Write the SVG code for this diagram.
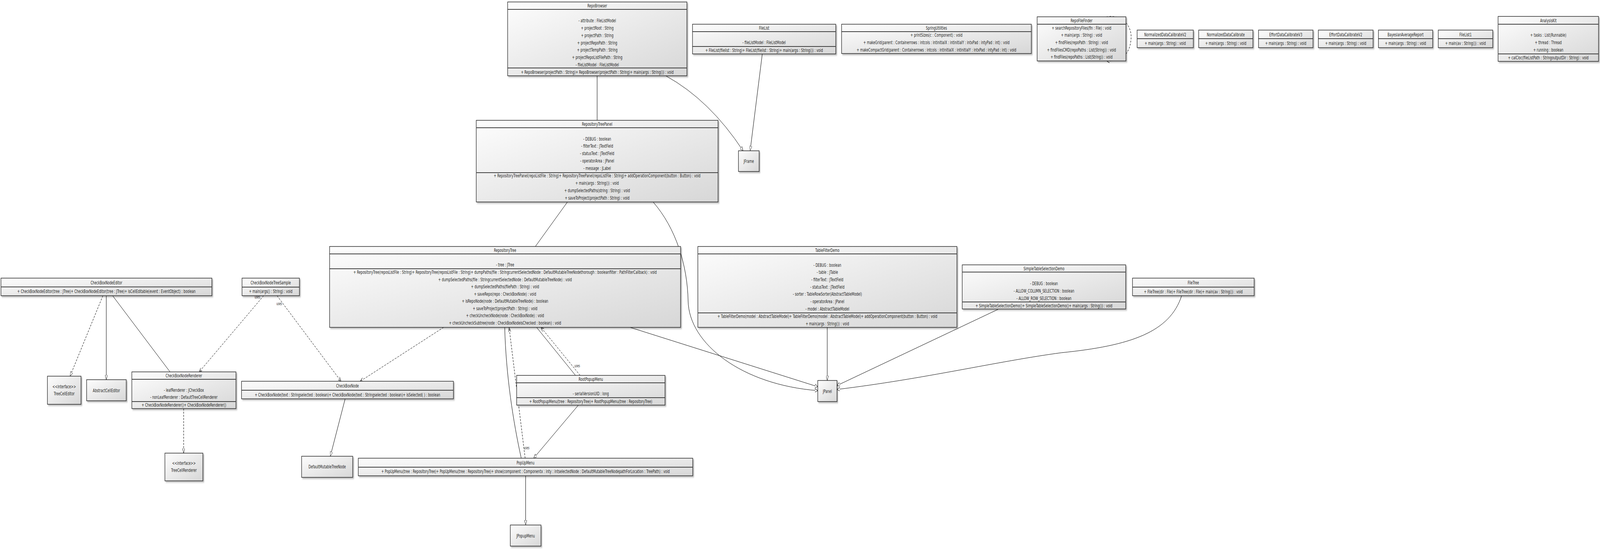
<svg xmlns="http://www.w3.org/2000/svg" width="6578" height="1408" viewBox="0 0 6578 1408">
<defs>
<linearGradient id="g" x1="0" y1="0" x2="1" y2="1"><stop offset="0" stop-color="#fdfdfd"/><stop offset="1" stop-color="#d7d7d7"/></linearGradient>
<filter id="sh" x="-5%" y="-10%" width="110%" height="130%"><feDropShadow dx="4" dy="3" stdDeviation="2" flood-color="#000" flood-opacity="0.3"/></filter>
<marker id="tri" viewBox="0 0 12 10" refX="12" refY="5" markerWidth="12" markerHeight="10" markerUnits="userSpaceOnUse" orient="auto"><path d="M0,0 L12,5 L0,10 Z" fill="#fff" stroke="#000" stroke-width="1" stroke-dasharray="none"/></marker>
<marker id="arr" viewBox="0 0 12 10" refX="12" refY="5" markerWidth="12" markerHeight="10" markerUnits="userSpaceOnUse" orient="auto"><path d="M0,0 L12,5 L0,10" fill="none" stroke="#000" stroke-width="1.2" stroke-dasharray="none"/></marker>
</defs>
<style>
.box{fill:url(#g);stroke:#2b2b2b;stroke-width:1.3;filter:url(#sh);vector-effect:non-scaling-stroke}
.sep{stroke:#404040;stroke-width:2;vector-effect:non-scaling-stroke}
text{font-family:"DejaVu Sans",sans-serif;font-size:12.4px;fill:#1e1e1e;text-anchor:middle;dominant-baseline:central}
.lbl{font-size:10px}
#connectors path{fill:none;stroke:#000;stroke-width:1;vector-effect:non-scaling-stroke}
#connectors .d{stroke-dasharray:5,3}
</style>
<rect width="6578" height="1408" fill="#fff"/>
<g id="diagram" transform="scale(0.62268,1)">

<g id="connectors">
<path d="M2455,194 L2455,308"/>
<path d="M2737,194 Q2918,256 3055,386" marker-end="url(#tri)"/>
<path d="M3134,138 L3084,386" marker-end="url(#tri)"/>
<path d="M2333,517 L2201,631"/>
<path d="M2685,517 C2780,585 2826,680 2829,770 C2832,880 3050,985 3362,1000" marker-end="url(#tri)"/>
<path d="M2590,838 L3362,990" marker-end="url(#tri)"/>
<path d="M3401,838 L3401,974" marker-end="url(#tri)"/>
<path d="M4103,792 L3441,987" marker-end="url(#tri)"/>
<path d="M4858,757 C4810,850 4650,885 4363,903 C4100,925 3800,970 3441,997" marker-end="url(#tri)"/>
<path class="d" d="M423,757 L288,963" marker-end="url(#tri)"/>
<path d="M437,757 L437,972" marker-end="url(#tri)"/>
<path d="M463,757 L699,952"/>
<path class="d" d="M1084,757 L819,952" marker-end="url(#arr)"/>
<path class="d" d="M1139,757 L1402,976" marker-end="url(#arr)"/>
<path class="d" d="M1824,838 L1481,976" marker-end="url(#arr)"/>
<path d="M1419,1021 L1358,1168" marker-end="url(#tri)"/>
<path d="M2075,838 C2080,960 2110,1080 2143,1173"/>
<path class="d" d="M2159,1173 L2093,838" marker-end="url(#arr)"/>
<path d="M2366,961 L2206,838"/>
<path class="d" d="M2385,961 L2224,838" marker-end="url(#arr)"/>
<path d="M2378,1037 L2194,1173" marker-end="url(#tri)"/>
<path d="M2161,1218 L2161,1344" marker-end="url(#tri)"/>
<path class="d" d="M755,1046 L755,1160" marker-end="url(#tri)"/>
<path class="d" d="M4548,43 C4620,35 4655,70 4650,100 C4645,140 4610,158 4550,156" marker-end="url(#arr)"/>
<text class="lbl" x="1058" y="760">uses</text>
<text class="lbl" x="1148" y="777">uses</text>
<text class="lbl" x="1798" y="832">uses</text>
<text class="lbl" x="2165" y="1146">uses</text>
<text class="lbl" x="2373" y="936">uses</text>
<text class="lbl" x="4570" y="49">uses</text>
</g>

<g id="RepoBrowser">
<rect class="box" x="2087" y="5" width="737" height="189"/>
<line class="sep" x1="2087" y1="24" x2="2824" y2="24"/><line class="sep" x1="2087" y1="174" x2="2824" y2="174"/>
<text x="2455.5" y="14.5">RepoBrowser</text>
<text x="2455.5" y="52">- attribute : FileListModel</text>
<text x="2455.5" y="71">+ projectRoot : String</text>
<text x="2455.5" y="90">+ projectPath : String</text>
<text x="2455.5" y="109">+ projectRepoPath : String</text>
<text x="2455.5" y="127">+ projectTempPath : String</text>
<text x="2455.5" y="146">+ projectRepoListFilePath : String</text>
<text x="2455.5" y="165">- fileListModel : FileListModel</text>
<text x="2455.5" y="184">+ RepoBrowser(projectPath : String)+ RepoBrowser(projectPath : String)+ main(args : String()) : void</text>
</g>

<g id="FileList">
<rect class="box" x="2847" y="62" width="589" height="76"/>
<line class="sep" x1="2847" y1="81" x2="3436" y2="81"/><line class="sep" x1="2847" y1="119" x2="3436" y2="119"/>
<text x="3141.5" y="71.5">FileList</text>
<text x="3141.5" y="108">- fileListModel : FileListModel</text>
<text x="3141.5" y="128">+ FileList(filelist : String)+ FileList(filelist : String)+ main(args : String()) : void</text>
</g>

<g id="SpringUtilities">
<rect class="box" x="3460" y="62" width="780" height="75"/>
<line class="sep" x1="3460" y1="81" x2="4240" y2="81"/>
<text x="3850" y="71.5">SpringUtilities</text>
<text x="3850" y="89">+ printSizes(c : Component) : void</text>
<text x="3850" y="108">+ makeGrid(parent : Containerrows : intcols : intinitialX : intinitialY : intxPad : intyPad : int) : void</text>
<text x="3850" y="127">+ makeCompactGrid(parent : Containerrows : intcols : intinitialX : intinitialY : intxPad : intyPad : int) : void</text>
</g>

<g id="RepoFileFinder">
<rect class="box" x="4264" y="43" width="365" height="113"/>
<line class="sep" x1="4264" y1="62" x2="4629" y2="62"/>
<text x="4446.5" y="52.5">RepoFileFinder</text>
<text x="4446.5" y="71">+ searchRepositoryFiles(fin : File) : void</text>
<text x="4446.5" y="89.5">+ main(args : String) : void</text>
<text x="4446.5" y="108">+ findFiles(repoPath : String) : void</text>
<text x="4446.5" y="127">+ findFilesCMD(repoPaths : List(String)) : void</text>
<text x="4446.5" y="145.5">+ findFiles(repoPaths : List(String)) : void</text>
</g>

<g id="NormalizedDataCalibrateV2">
<rect class="box" x="4675" y="77" width="231" height="45"/>
<line class="sep" x1="4675" y1="99" x2="4906" y2="99"/>
<text x="4790.5" y="88">NormalizedDataCalibrateV2</text>
<text x="4790.5" y="110.5">+ main(args : String) : void</text>
</g>

<g id="NormalizedDataCalibrate">
<rect class="box" x="4928" y="77" width="223" height="45"/>
<line class="sep" x1="4928" y1="99" x2="5151" y2="99"/>
<text x="5039.5" y="88">NormalizedDataCalibrate</text>
<text x="5039.5" y="110.5">+ main(args : String) : void</text>
</g>

<g id="EffortDataCalibrateV3">
<rect class="box" x="5174" y="77" width="224" height="45"/>
<line class="sep" x1="5174" y1="99" x2="5398" y2="99"/>
<text x="5286" y="88">EffortDataCalibrateV3</text>
<text x="5286" y="110.5">+ main(args : String) : void</text>
</g>

<g id="EffortDataCalibrateV2">
<rect class="box" x="5420" y="77" width="225" height="45"/>
<line class="sep" x1="5420" y1="99" x2="5645" y2="99"/>
<text x="5532.5" y="88">EffortDataCalibrateV2</text>
<text x="5532.5" y="110.5">+ main(args : String) : void</text>
</g>

<g id="BayesianAverageReport">
<rect class="box" x="5667" y="77" width="223" height="45"/>
<line class="sep" x1="5667" y1="99" x2="5890" y2="99"/>
<text x="5778.5" y="88">BayesianAverageReport</text>
<text x="5778.5" y="110.5">+ main(args : String) : void</text>
</g>

<g id="FileList1">
<rect class="box" x="5913" y="77" width="224" height="45"/>
<line class="sep" x1="5913" y1="99" x2="6137" y2="99"/>
<text x="6025" y="88">FileList1</text>
<text x="6025" y="110.5">+ main(av : String()) : void</text>
</g>

<g id="AnalysisKit">
<rect class="box" x="6159" y="42" width="413" height="115"/>
<line class="sep" x1="6159" y1="62" x2="6572" y2="62"/><line class="sep" x1="6159" y1="138" x2="6572" y2="138"/>
<text x="6365.5" y="52">AnalysisKit</text>
<text x="6365.5" y="89">+ tasks : List(Runnable)</text>
<text x="6365.5" y="108">+ thread : Thread</text>
<text x="6365.5" y="127">+ running : boolean</text>
<text x="6365.5" y="147.5">+ calCloc(fileListPath : StringoutputDir : String) : void</text>
</g>

<g id="RepositoryTreePanel">
<rect class="box" x="1958" y="308" width="994" height="209"/>
<line class="sep" x1="1958" y1="327" x2="2952" y2="327"/><line class="sep" x1="1958" y1="442" x2="2952" y2="442"/>
<text x="2455" y="317.5">RepositoryTreePanel</text>
<text x="2455" y="355">- DEBUG : boolean</text>
<text x="2455" y="373.5">- filterText : JTextField</text>
<text x="2455" y="392">- statusText : JTextField</text>
<text x="2455" y="411">- operatorArea : JPanel</text>
<text x="2455" y="430">- message : JLabel</text>
<text x="2455" y="449">+ RepositoryTreePanel(repoListFile : String)+ RepositoryTreePanel(repoListFile : String)+ addOperationComponent(button : Button) : void</text>
<text x="2455" y="468">+ main(args : String()) : void</text>
<text x="2455" y="487">+ dumpSelectedPaths(string : String) : void</text>
<text x="2455" y="506">+ saveToProject(projectPath : String) : void</text>
</g>

<g id="JFrame">
<rect class="box" x="3036" y="386" width="85" height="53"/>
<text x="3078.5" y="412.5">JFrame</text>
</g>

<g id="CheckBoxNodeEditor">
<rect class="box" x="4" y="712" width="867" height="45"/>
<line class="sep" x1="4" y1="734.5" x2="871" y2="734.5"/>
<text x="437.5" y="723">CheckBoxNodeEditor</text>
<text x="437.5" y="745.5">+ CheckBoxNodeEditor(tree : JTree)+ CheckBoxNodeEditor(tree : JTree)+ isCellEditable(event : EventObject) : boolean</text>
</g>

<g id="CheckBoxNodeTreeSample">
<rect class="box" x="995" y="712" width="236" height="45"/>
<line class="sep" x1="995" y1="735" x2="1231" y2="735"/>
<text x="1113" y="723">CheckBoxNodeTreeSample</text>
<text x="1113" y="745.5">+ main(args() : String) : void</text>
</g>

<g id="RepositoryTree">
<rect class="box" x="1355" y="631" width="1443" height="207"/>
<line class="sep" x1="1355" y1="650" x2="2798" y2="650"/><line class="sep" x1="1355" y1="688" x2="2798" y2="688"/>
<text x="2076.5" y="640">RepositoryTree</text>
<text x="2076.5" y="677">- tree : JTree</text>
<text x="2076.5" y="696.5">+ RepositoryTree(reposListFile : String)+ RepositoryTree(reposListFile : String)+ dumpPaths(file : StringcurrentSelectedNode : DefaultMutableTreeNodethorough : booleanfilter : PathFilterCallback) : void</text>
<text x="2076.5" y="715">+ dumpSelectedPaths(file : StringcurrentSelectedNode : DefaultMutableTreeNode) : void</text>
<text x="2076.5" y="733.5">+ dumpSelectedPaths(filePath : String) : void</text>
<text x="2076.5" y="752">+ saveRepo(repo : CheckBoxNode) : void</text>
<text x="2076.5" y="770.5">+ isRepoNode(node : DefaultMutableTreeNode) : boolean</text>
<text x="2076.5" y="789">+ saveToProject(projectPath : String) : void</text>
<text x="2076.5" y="807.5">+ checkUncheckNode(node : CheckBoxNode) : void</text>
<text x="2076.5" y="826">+ checkUncheckSubtree(node : CheckBoxNodeisChecked : boolean) : void</text>
</g>

<g id="TableFilterDemo">
<rect class="box" x="2869" y="631" width="1065" height="207"/>
<line class="sep" x1="2869" y1="650" x2="3934" y2="650"/><line class="sep" x1="2869" y1="801" x2="3934" y2="801"/>
<text x="3401.5" y="640">TableFilterDemo</text>
<text x="3401.5" y="678">- DEBUG : boolean</text>
<text x="3401.5" y="696.5">- table : JTable</text>
<text x="3401.5" y="715">- filterText : JTextField</text>
<text x="3401.5" y="734">- statusText : JTextField</text>
<text x="3401.5" y="752.5">- sorter : TableRowSorter(AbstractTableModel)</text>
<text x="3401.5" y="771">- operatorArea : JPanel</text>
<text x="3401.5" y="790">- model : AbstractTableModel</text>
<text x="3401.5" y="809">+ TableFilterDemo(model : AbstractTableModel)+ TableFilterDemo(model : AbstractTableModel)+ addOperationComponent(button : Button) : void</text>
<text x="3401.5" y="828">+ main(args : String()) : void</text>
</g>

<g id="SimpleTableSelectionDemo">
<rect class="box" x="3956" y="678" width="672" height="113"/>
<line class="sep" x1="3956" y1="696.5" x2="4628" y2="696.5"/><line class="sep" x1="3956" y1="773" x2="4628" y2="773"/>
<text x="4292" y="687">SimpleTableSelectionDemo</text>
<text x="4292" y="725">- DEBUG : boolean</text>
<text x="4292" y="744">- ALLOW_COLUMN_SELECTION : boolean</text>
<text x="4292" y="763">- ALLOW_ROW_SELECTION : boolean</text>
<text x="4292" y="782">+ SimpleTableSelectionDemo()+ SimpleTableSelectionDemo()+ main(args : String()) : void</text>
</g>

<g id="FileTree">
<rect class="box" x="4656" y="712" width="500" height="45"/>
<line class="sep" x1="4656" y1="735" x2="5156" y2="735"/>
<text x="4906" y="723">FileTree</text>
<text x="4906" y="746">+ FileTree(dir : File)+ FileTree(dir : File)+ main(av : String()) : void</text>
</g>

<g id="TreeCellEditor">
<rect class="box" x="195" y="963" width="138" height="72"/>
<text x="264" y="989">&lt;&lt;interface&gt;&gt;</text>
<text x="264" y="1007">TreeCellEditor</text>
</g>

<g id="AbstractCellEditor">
<rect class="box" x="356" y="972" width="163" height="54"/>
<text x="437.5" y="999">AbstractCellEditor</text>
</g>

<g id="CheckBoxNodeRenderer">
<rect class="box" x="542" y="952" width="428" height="94"/>
<line class="sep" x1="542" y1="971" x2="970" y2="971"/><line class="sep" x1="542" y1="1028" x2="970" y2="1028"/>
<text x="756" y="961">CheckBoxNodeRenderer</text>
<text x="756" y="998.5">- leafRenderer : JCheckBox</text>
<text x="756" y="1016.5">- nonLeafRenderer : DefaultTreeCellRenderer</text>
<text x="756" y="1036.5">+ CheckBoxNodeRenderer()+ CheckBoxNodeRenderer()</text>
</g>

<g id="CheckBoxNode">
<rect class="box" x="993" y="976" width="871" height="45"/>
<line class="sep" x1="993" y1="999" x2="1864" y2="999"/>
<text x="1428.5" y="987.5">CheckBoxNode</text>
<text x="1428.5" y="1010">+ CheckBoxNode(text : Stringselected : boolean)+ CheckBoxNode(text : Stringselected : boolean)+ isSelected( ) : boolean</text>
</g>

<g id="RootPopupMenu">
<rect class="box" x="2124" y="961" width="610" height="76"/>
<line class="sep" x1="2124" y1="980" x2="2734" y2="980"/><line class="sep" x1="2124" y1="1018" x2="2734" y2="1018"/>
<text x="2429" y="970">RootPopupMenu</text>
<text x="2429" y="1007">- serialVersionUID : long</text>
<text x="2429" y="1027">+ RootPopupMenu(tree : RepositoryTree)+ RootPopupMenu(tree : RepositoryTree)</text>
</g>

<g id="JPanel">
<rect class="box" x="3362" y="974" width="79" height="54"/>
<text x="3401.5" y="1001">JPanel</text>
</g>

<g id="TreeCellRenderer">
<rect class="box" x="678" y="1160" width="156" height="71"/>
<text x="756" y="1185">&lt;&lt;interface&gt;&gt;</text>
<text x="756" y="1203">TreeCellRenderer</text>
</g>

<g id="DefaultMutableTreeNode">
<rect class="box" x="1240" y="1168" width="210" height="54"/>
<text x="1345" y="1194">DefaultMutableTreeNode</text>
</g>

<g id="PopUpMenu">
<rect class="box" x="1473" y="1173" width="1375" height="45"/>
<line class="sep" x1="1473" y1="1196" x2="2848" y2="1196"/>
<text x="2160.5" y="1184">PopUpMenu</text>
<text x="2160.5" y="1206.5">+ PopUpMenu(tree : RepositoryTree)+ PopUpMenu(tree : RepositoryTree)+ show(component : Componentx : inty : intselectedNode : DefaultMutableTreeNodepathForLocation : TreePath) : void</text>
</g>

<g id="JPopupMenu">
<rect class="box" x="2098" y="1344" width="126" height="54"/>
<text x="2161" y="1371">JPopupMenu</text>
</g>
</g>
</svg>
